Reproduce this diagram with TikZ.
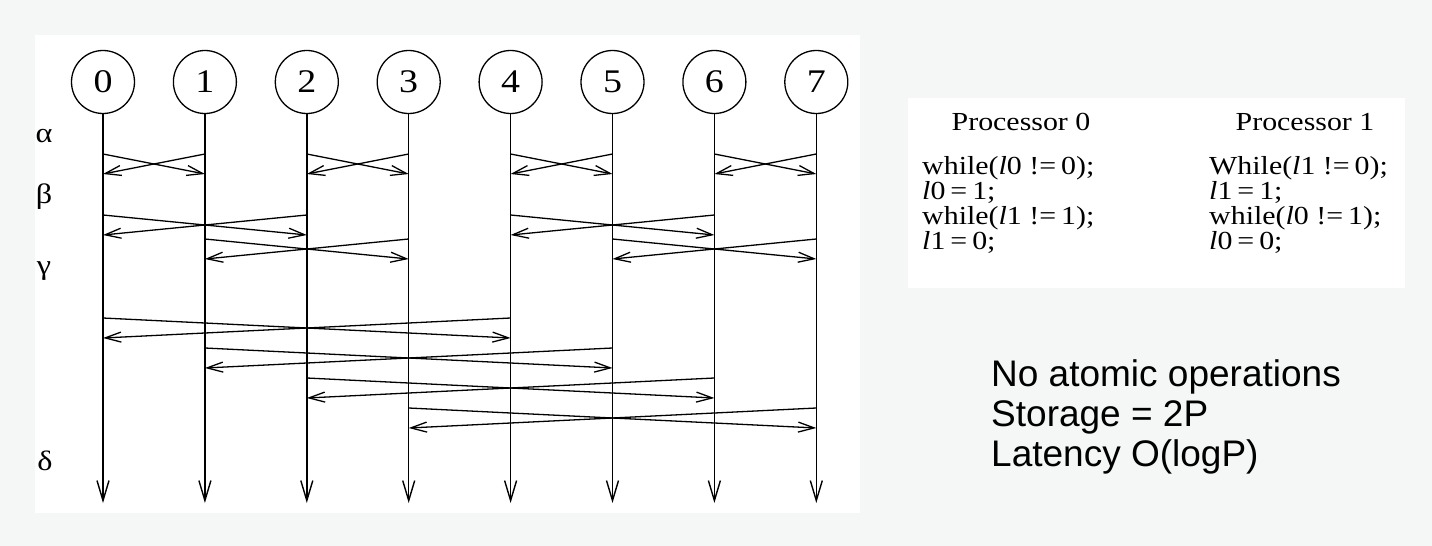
\documentclass[tikz,border=0pt]{standalone}
\usepackage{fontspec}
\setmainfont{Liberation Serif}
\setsansfont{Liberation Sans}
\usepackage{graphicx}
\usetikzlibrary{arrows.meta}
\definecolor{bggray}{RGB}{245,247,247}
\newcommand\xchg[4]{%
  \draw[msg] (p#1 |- 0,#3) -- (p#2 |- 0,#4);
  \draw[msg] (p#2 |- 0,#3) -- (p#1 |- 0,#4);}
\newcommand\sx[1]{\scalebox{1.15}[1]{#1}}
\newcommand\codesc[1]{\scalebox{1.15}[1]{#1}}
\begin{document}
\begin{tikzpicture}[x=1pt,y=-1pt,
  proc/.style={circle,draw,line width=1.3pt,minimum size=63pt,inner sep=0pt,
    font=\fontsize{33}{33}\selectfont},
  timeline/.style={line width=1.4pt,-{Straight Barb[length=20pt,width=12pt,line width=1.4pt]}},
  msg/.style={line width=1.3pt,-{Straight Barb[length=16pt,width=10pt,line width=1.3pt]}},
  greek/.style={anchor=base,inner sep=0pt,font=\fontsize{28}{28}\selectfont},
  code/.style={anchor=base west,inner sep=0pt,text height=16pt,text depth=5pt,
    font=\fontsize{26}{26}\selectfont},
  codehead/.style={anchor=base,inner sep=0pt,text height=16pt,text depth=5pt,
    font=\fontsize{26}{26}\selectfont},
  note/.style={anchor=base west,inner sep=0pt,font=\sffamily\fontsize{37}{37}\selectfont}]
\useasboundingbox (0,0) rectangle (1432,546);
\fill[bggray] (0,0) rectangle (1432,546);
\fill[white] (35,35) rectangle (860,513);
\fill[white] (908,98) rectangle (1405,288);
% processors
\foreach \i in {0,...,7}{
  \node[proc] (p\i) at ({103+101.9*\i},82) {\sx{\i}};
  \coordinate (e\i) at ({103+101.9*\i},503);
  \draw[timeline] (p\i) -- (e\i);
}
% stage labels
\node[greek] (la) at (44,142) {\sx{α}};
\node[greek] (lb) at (44,203) {\sx{β}};
\node[greek] (lg) at (44,274) {\sx{γ}};
\node[greek] (ld) at (45,470) {\sx{δ}};
% alpha
\xchg{0}{1}{154}{174}
\xchg{2}{3}{154}{174}
\xchg{4}{5}{154}{174}
\xchg{6}{7}{154}{174}
% beta
\xchg{0}{2}{215}{235}
\xchg{4}{6}{215}{235}
\xchg{1}{3}{239}{259}
\xchg{5}{7}{239}{259}
% gamma
\xchg{0}{4}{318}{338}
\xchg{1}{5}{348}{368}
\xchg{2}{6}{378}{398}
\xchg{3}{7}{408}{428}
% code panel
\node[codehead] (h0) at (1021,130) {\codesc{Processor 0}};
\node[codehead] (h1) at (1305,130) {\codesc{Processor 1}};
\node[code] (a1) at (922,174) {\codesc{while(\textit{l}0 !=\,0);}};
\node[code] (a2) at (922,199) {\codesc{\textit{l}0\,=\,1;}};
\node[code] (a3) at (922,224) {\codesc{while(\textit{l}1 !=\,1);}};
\node[code] (a4) at (922,249) {\codesc{\textit{l}1\,=\,0;}};
\node[code] (b1) at (1209,174) {\codesc{While(\textit{l}1 !=\,0);}};
\node[code] (b2) at (1209,199) {\codesc{\textit{l}1\,=\,1;}};
\node[code] (b3) at (1209,224) {\codesc{while(\textit{l}0 !=\,1);}};
\node[code] (b4) at (1209,249) {\codesc{\textit{l}0\,=\,0;}};
% notes
\node[note] (n1) at (991,386) {No atomic operations};
\node[note] (n2) at (991,426) {Storage = 2P};
\node[note] (n3) at (991,466) {Latency O(logP)};
\end{tikzpicture}
\end{document}
